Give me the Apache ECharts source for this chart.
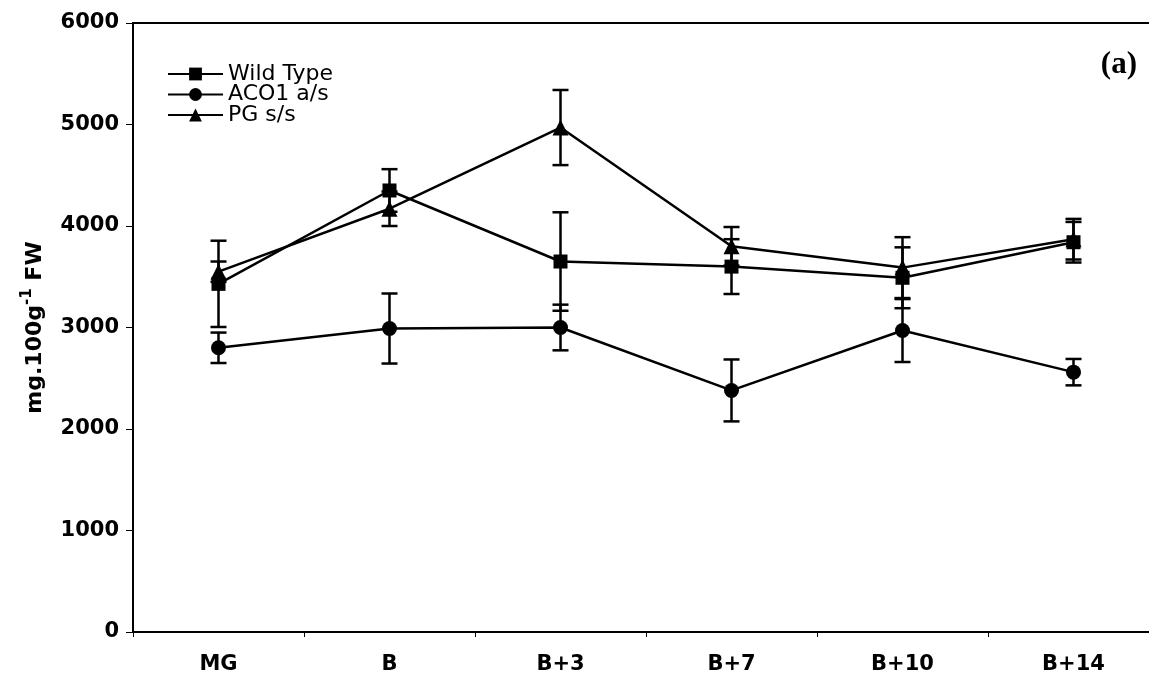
<!DOCTYPE html>
<html>
<head>
<meta charset="utf-8">
<script src="https://cdn.jsdelivr.net/npm/echarts@6/dist/echarts.min.js"></script>
<style>
html,body{margin:0;padding:0;background:#fff;}
#chart{width:1149px;height:684px;}
</style>
</head>
<body>
<div id="chart"></div>
<script>
var categories = ['MG', 'B', 'B+3', 'B+7', 'B+10', 'B+14'];
var yTicks = [0, 1000, 2000, 3000, 4000, 5000, 6000];

var wildType    = [3430, 4350, 3650, 3600, 3490, 3840];
var wildTypeErr = [425, 210, 485, 270, 300, 200];
var aco1        = [2800, 2990, 3000, 2380, 2970, 2560];
var aco1Err     = [150, 345, 225, 305, 310, 130];
var pg          = [3550, 4170, 4970, 3800, 3590, 3870];
var pgErr       = [100, 170, 370, 190, 300, 200];

var seriesNames = ['Wild Type', 'ACO1 a/s', 'PG s/s'];

function errData(means, errs) {
  return means.map(function (m, i) { return [i, m, errs[i]]; });
}

function errSeries(means, errs) {
  return {
    type: 'custom',
    silent: true,
    z: 1,
    data: errData(means, errs),
    renderItem: function (params, api) {
      var i = api.value(0), m = api.value(1), e = api.value(2);
      var top = api.coord([i, m + e]);
      var bot = api.coord([i, m - e]);
      var hw = 8;
      var st = { stroke: '#000', lineWidth: 2.5 };
      return {
        type: 'group',
        children: [
          { type: 'line', shape: { x1: top[0], y1: top[1], x2: bot[0], y2: bot[1] }, style: st },
          { type: 'line', shape: { x1: top[0] - hw, y1: top[1], x2: top[0] + hw, y2: top[1] }, style: st },
          { type: 'line', shape: { x1: bot[0] - hw, y1: bot[1], x2: bot[0] + hw, y2: bot[1] }, style: st }
        ]
      };
    }
  };
}

function lineSeries(name, data, symbol, size) {
  return {
    name: name,
    type: 'line',
    data: data,
    symbol: symbol,
    symbolSize: size,
    z: 3,
    itemStyle: { color: '#000' },
    lineStyle: { color: '#000', width: 2.5 }
  };
}

var chart = echarts.init(document.getElementById('chart'));
chart.setOption({
  animation: false,
  backgroundColor: '#fff',
  grid: {
    left: 133, width: 1026, top: 23, bottom: 52,
    outerBoundsMode: 'none',
    containLabel: false,
    show: true, borderColor: '#000', borderWidth: 2, backgroundColor: 'transparent'
  },
  legend: {
    data: seriesNames,
    orient: 'vertical',
    left: 167,
    top: 63,
    padding: 0,
    itemWidth: 55,
    itemHeight: 16,
    itemGap: -1.5,
    textStyle: { fontFamily: 'DejaVu Sans', fontSize: 22, color: '#000' }
  },
  graphic: [{
    type: 'text',
    right: 12,
    top: 49,
    style: { text: '(a)', font: 'bold 31px "Liberation Serif"', fill: '#000' }
  }],
  xAxis: {
    type: 'category',
    data: categories,
    boundaryGap: true,
    axisLine: { lineStyle: { color: '#000', width: 2 } },
    axisTick: { show: true, length: 5, lineStyle: { color: '#000', width: 1 } },
    axisLabel: { interval: 0, margin: 22, color: '#000', fontFamily: 'DejaVu Sans', fontWeight: 'bold', fontSize: 21 },
    splitLine: { show: false }
  },
  yAxis: {
    type: 'value',
    min: yTicks[0],
    max: yTicks[yTicks.length - 1],
    interval: 1000,
    name: '{a|mg.100g}{s|-1}{a| FW}',
    nameLocation: 'middle',
    nameGap: 87,
    nameRotate: 90,
    nameTextStyle: {
      rich: {
        a: { fontFamily: 'DejaVu Sans', fontWeight: 'bold', fontSize: 22, color: '#000', lineHeight: 26, verticalAlign: 'bottom' },
        s: { fontFamily: 'DejaVu Sans', fontWeight: 'bold', fontSize: 15, color: '#000', lineHeight: 26, verticalAlign: 'top' }
      }
    },
    axisLine: { show: true, lineStyle: { color: '#000', width: 2 } },
    axisTick: { show: true, length: 7, lineStyle: { color: '#000', width: 1 } },
    axisLabel: {
      margin: 14, color: '#000', fontFamily: 'DejaVu Sans', fontWeight: 'bold', fontSize: 21,
      formatter: function (v) { return String(v); }
    },
    splitLine: { show: false }
  },
  series: [
    errSeries(wildType, wildTypeErr),
    errSeries(aco1, aco1Err),
    errSeries(pg, pgErr),
    lineSeries(seriesNames[0], wildType, 'rect', 14),
    lineSeries(seriesNames[1], aco1, 'circle', 15),
    lineSeries(seriesNames[2], pg, 'triangle', 16)
  ]
});
</script>
</body>
</html>
